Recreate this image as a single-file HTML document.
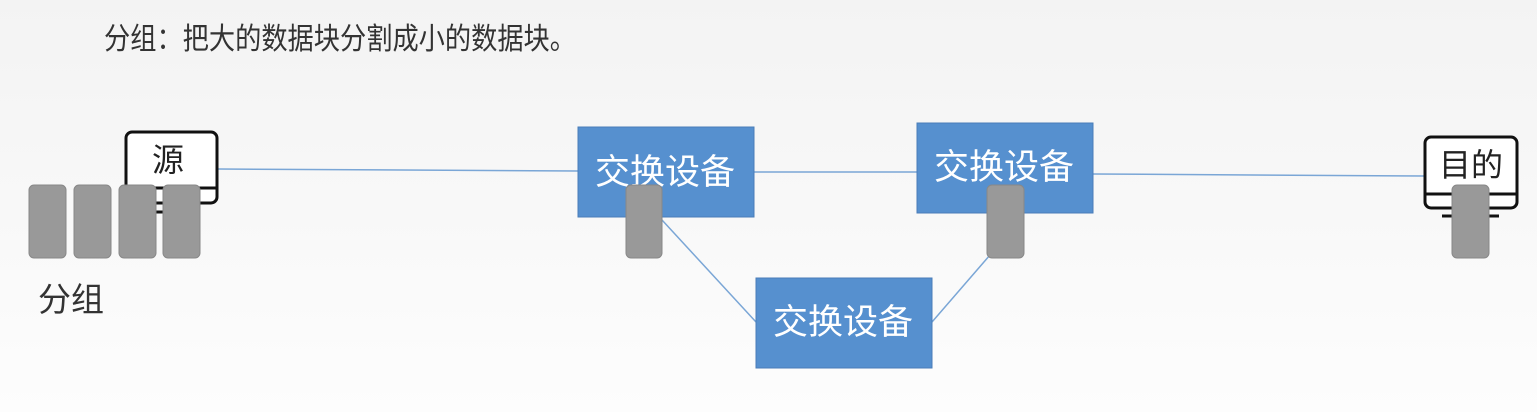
<!DOCTYPE html>
<html><head><meta charset="utf-8"><style>
html,body{margin:0;padding:0;}
body{width:1537px;height:412px;overflow:hidden;background:linear-gradient(#f3f3f3,#f7f7f7 40%,#fdfdfd);}
svg{display:block;font-family:"Liberation Sans","Noto Sans CJK SC",sans-serif;}
</style></head><body>
<svg width="1537" height="412" viewBox="0 0 1537 412">
<text x="104" y="49" font-size="30" fill="#333" textLength="472" lengthAdjust="spacingAndGlyphs">分组：把大的数据块分割成小的数据块。</text>
<g stroke="#7aa6d6" stroke-width="1.5" fill="none">
<line x1="218" y1="169" x2="578" y2="171"/>
<line x1="754" y1="172" x2="917" y2="172"/>
<line x1="1093" y1="174" x2="1425" y2="176"/>
<line x1="662" y1="220" x2="756" y2="322"/>
<line x1="932" y1="322" x2="990" y2="255"/>
</g>
<g fill="#5690cf" stroke="#4a7db8" stroke-width="1">
<rect x="578" y="127" width="176" height="90"/>
<rect x="917" y="123" width="176" height="90"/>
<rect x="756" y="278" width="176" height="90"/>
</g>
<g fill="#fff" font-size="35" text-anchor="middle">
<text x="665" y="184">交换设备</text>
<text x="1004" y="179">交换设备</text>
<text x="843" y="334">交换设备</text>
</g>
<g fill="#fff" stroke="#111" stroke-width="3">
<rect x="126" y="132" width="91" height="71" rx="6"/>
<rect x="1425" y="137" width="92" height="71" rx="6"/>
</g>
<g stroke="#111" stroke-width="3">
<line x1="126" y1="188" x2="217" y2="188"/>
<line x1="1425" y1="194" x2="1517" y2="194"/>
<line x1="143" y1="212" x2="200" y2="212"/>
<line x1="1442" y1="216" x2="1499" y2="216"/>
</g>
<text x="168" y="171" font-size="32" fill="#222" text-anchor="middle">源</text>
<text x="1471" y="176" font-size="32" fill="#222" text-anchor="middle">目的</text>
<g fill="#999" stroke="#888" stroke-width="1">
<rect x="29" y="185" width="37" height="73" rx="5"/>
<rect x="74" y="185" width="37" height="73" rx="5"/>
<rect x="119" y="185" width="37" height="73" rx="5"/>
<rect x="163" y="185" width="37" height="73" rx="5"/>
<rect x="626" y="185" width="36" height="73" rx="5"/>
<rect x="987" y="185" width="37" height="73" rx="5"/>
<rect x="1452" y="185" width="37" height="73" rx="5"/>
</g>
<text x="38" y="311" font-size="33" fill="#333">分组</text>
</svg>
</body></html>
